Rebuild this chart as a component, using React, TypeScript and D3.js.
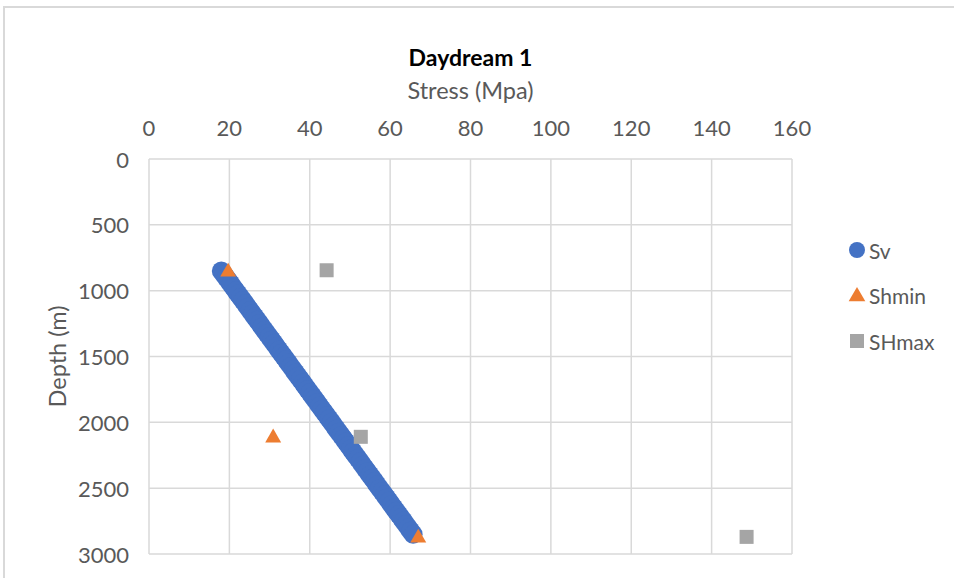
import React from "react";
import * as d3 from "d3";

const xTicks = [0, 20, 40, 60, 80, 100, 120, 140, 160];
const yTicks = [0, 500, 1000, 1500, 2000, 2500, 3000];

const svDepth = [850, 875, 900, 925, 950, 975, 1000, 1025, 1050, 1075, 1100, 1125, 1150, 1175, 1200, 1225, 1250, 1275, 1300, 1325, 1350, 1375, 1400, 1425, 1450, 1475, 1500, 1525, 1550, 1575, 1600, 1625, 1650, 1675, 1700, 1725, 1750, 1775, 1800, 1825, 1850, 1875, 1900, 1925, 1950, 1975, 2000, 2025, 2050, 2075, 2100, 2125, 2150, 2175, 2200, 2225, 2250, 2275, 2300, 2325, 2350, 2375, 2400, 2425, 2450, 2475, 2500, 2525, 2550, 2575, 2600, 2625, 2650, 2675, 2700, 2725, 2750, 2775, 2800, 2825, 2850];
const svStress = [18.0, 18.6, 19.19, 19.79, 20.39, 20.98, 21.58, 22.18, 22.77, 23.37, 23.97, 24.56, 25.16, 25.75, 26.35, 26.95, 27.54, 28.14, 28.74, 29.33, 29.93, 30.53, 31.12, 31.72, 32.32, 32.91, 33.51, 34.11, 34.7, 35.3, 35.9, 36.49, 37.09, 37.68, 38.28, 38.88, 39.47, 40.07, 40.67, 41.26, 41.86, 42.46, 43.05, 43.65, 44.25, 44.84, 45.44, 46.04, 46.63, 47.23, 47.83, 48.42, 49.02, 49.61, 50.21, 50.81, 51.4, 52.0, 52.6, 53.19, 53.79, 54.39, 54.98, 55.58, 56.18, 56.77, 57.37, 57.97, 58.56, 59.16, 59.76, 60.35, 60.95, 61.54, 62.14, 62.74, 63.33, 63.93, 64.53, 65.12, 65.72];

const shminDepth = [850, 2110, 2870];
const shminStress = [19.7, 30.9, 67.0];

const shmaxDepth = [845, 2110, 2870];
const shmaxStress = [44.2, 52.7, 148.7];

const legendLabels = ["Sv", "Shmin", "SHmax"];
const colors = ["#4472C4", "#ED7D31", "#A5A5A5"];

const FONT = "Lato, 'Open Sans', sans-serif";

export default function App() {
  const W = 954, H = 578;
  const left = 149, right = 792, top = 159, bottom = 554;
  const x = d3.scaleLinear().domain([0, 160]).range([left, right]);
  const y = d3.scaleLinear().domain([0, 3000]).range([top, bottom]);
  const tri = d3.symbol().type(d3.symbolTriangle).size(110)();
  const triLeg = d3.symbol().type(d3.symbolTriangle).size(120)();
  const grid = "#d9d9d9";
  const tickColor = "#595959";

  return (
    <svg width={W} height={H} style={{ position: "absolute", left: 0, top: 0, background: "#fff" }}>
      <rect x={0} y={0} width={W} height={H} fill="#fff" />
      <line x1={4} y1={6} x2={4} y2={H} stroke={grid} strokeWidth={2} />
      <line x1={3} y1={7} x2={W} y2={7} stroke={grid} strokeWidth={2} />

      {xTicks.map((t) => (
        <line key={"gx" + t} x1={x(t)} x2={x(t)} y1={top} y2={bottom} stroke={grid} strokeWidth={1.5} />
      ))}
      {yTicks.map((t) => (
        <line key={"gy" + t} x1={left} x2={right} y1={y(t)} y2={y(t)} stroke={grid} strokeWidth={1.5} />
      ))}

      {xTicks.map((t) => (
        <text key={"tx" + t} x={x(t)} y={127} textAnchor="middle" dominantBaseline="central" fontFamily={FONT} fontSize={22} fill={tickColor}>
          {t}
        </text>
      ))}
      {yTicks.map((t) => (
        <text key={"ty" + t} x={129} y={y(t)} textAnchor="end" dominantBaseline="central" fontFamily={FONT} fontSize={22} fill={tickColor}>
          {t}
        </text>
      ))}

      <text x={(left + right) / 2} y={57} textAnchor="middle" dominantBaseline="central" fontFamily={FONT} fontSize={23} fontWeight="bold" fill="#000">
        Daydream 1
      </text>
      <text x={(left + right) / 2} y={90} textAnchor="middle" dominantBaseline="central" fontFamily={FONT} fontSize={23.5} fill={tickColor}>
        Stress (Mpa)
      </text>
      <text transform={`translate(57, ${(top + bottom) / 2}) rotate(-90)`} textAnchor="middle" dominantBaseline="central" fontFamily={FONT} fontSize={23.5} fill={tickColor}>
        Depth (m)
      </text>

      {svDepth.map((d, i) => (
        <circle key={"sv" + i} cx={x(svStress[i])} cy={y(d)} r={9.5} fill={colors[0]} />
      ))}
      {shminDepth.map((d, i) => (
        <path key={"sh" + i} d={tri!} transform={`translate(${x(shminStress[i])}, ${y(d) + 1})`} fill={colors[1]} />
      ))}
      {shmaxDepth.map((d, i) => (
        <rect key={"sH" + i} x={x(shmaxStress[i]) - 7} y={y(d) - 7} width={14} height={14} fill={colors[2]} />
      ))}

      {legendLabels.map((lab, i) => {
        const ly = 250 + i * 45.5;
        const lx = 857;
        return (
          <g key={"lg" + i}>
            {i === 0 && <circle cx={lx} cy={ly} r={8} fill={colors[0]} />}
            {i === 1 && <path d={triLeg!} transform={`translate(${lx}, ${ly + 1})`} fill={colors[1]} />}
            {i === 2 && <rect x={lx - 7} y={ly - 7} width={14} height={14} fill={colors[2]} />}
            <text x={869} y={ly} dominantBaseline="central" fontFamily={FONT} fontSize={21} fill={tickColor}>
              {lab}
            </text>
          </g>
        );
      })}
    </svg>
  );
}
